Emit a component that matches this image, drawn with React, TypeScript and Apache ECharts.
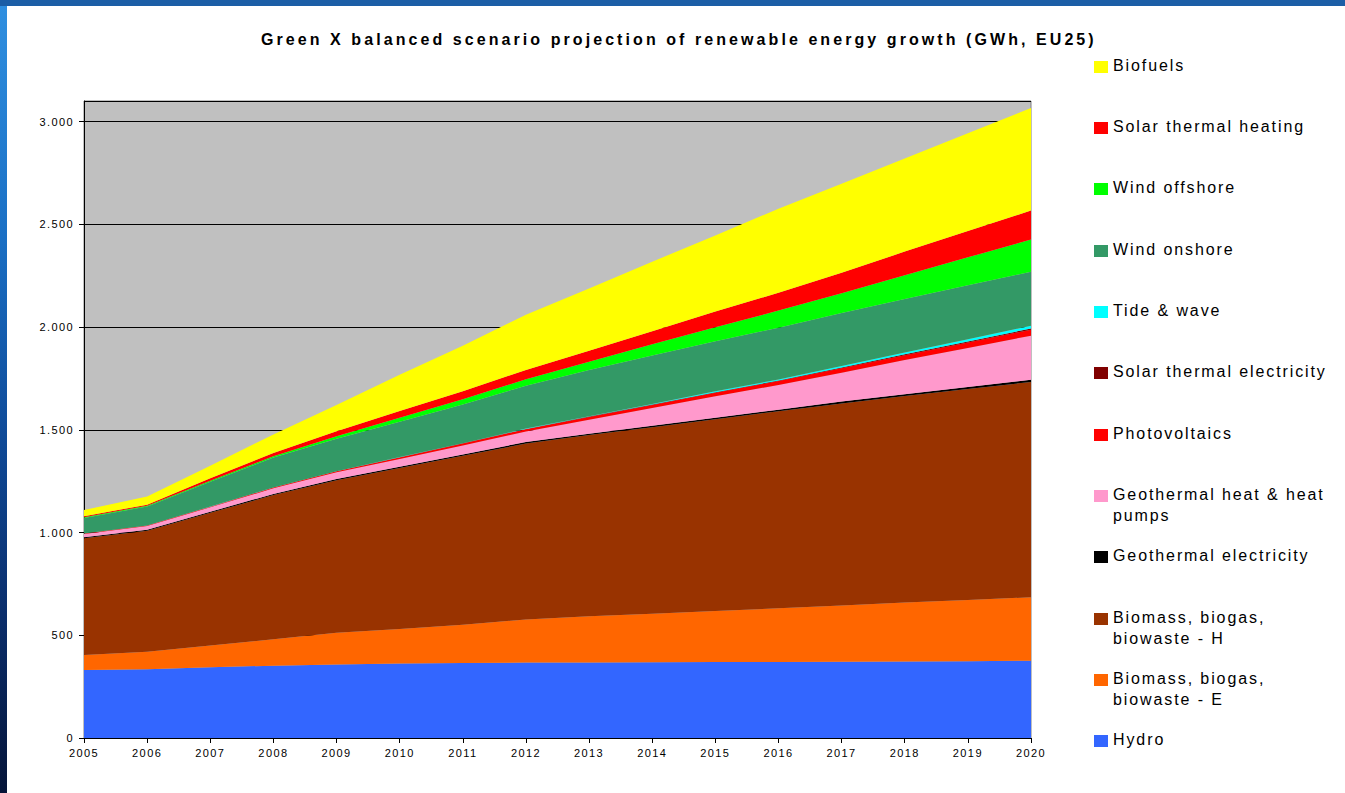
import React, { useEffect, useRef } from "react";
import * as echarts from "echarts";

const years = ["2005","2006","2007","2008","2009","2010","2011","2012","2013","2014","2015","2016","2017","2018","2019","2020"];

const hydro = [331, 334, 344, 352, 358, 362, 365, 367, 368, 369, 370, 370, 371, 372, 374, 376];
const biomassE = [73, 86, 106, 128, 154, 169, 186, 210, 225, 236, 248, 261, 274, 288, 298, 309];
const biomassH = [568, 588, 646, 702, 742, 783, 822, 856, 881, 907, 933, 959, 983, 1004, 1026, 1048];
const geoElectricity = [5, 5, 5, 6, 6, 6, 7, 7, 7, 8, 8, 8, 9, 9, 10, 10];
const geoHeat = [16, 19, 22, 27, 33, 38, 44, 52, 68, 86, 104, 120, 140, 166, 190, 215];
const photovoltaics = [2, 2, 3, 4, 5, 7, 9, 11, 13, 15, 17, 19, 22, 24, 27, 29];
const solarThermalElec = [0, 0, 0, 0, 0, 1, 1, 1, 2, 2, 3, 3, 4, 4, 5, 6];
const tideWave = [0.5, 0.5, 0.5, 0.5, 0.5, 1, 1, 2, 2, 3, 4, 5, 7, 9, 11, 13];
const windOnshore = [75, 92, 121, 145, 158, 172, 188, 208, 225, 236, 244, 252, 258, 261, 262, 263];
const windOffshore = [4, 4, 5, 7, 12, 19, 26, 32, 40, 54, 68, 83, 96, 115, 136, 157];
const solarThermalHeat = [5, 5, 11, 16, 24, 33, 38, 45, 53, 64, 76, 87, 100, 115, 128, 141];
const biofuels = [30, 40, 62, 90, 128, 177, 222, 269, 303, 338, 370, 409, 433, 453, 476, 499];

const titleText = "Green X balanced scenario projection of renewable energy growth (GWh, EU25)";

// bottom to top stacking order
const seriesDefs = [
  { name: "Hydro", label: "Hydro", data: hydro, color: "#3366FF" },
  { name: "Biomass, biogas, biowaste - E", label: "Biomass, biogas,\nbiowaste - E", data: biomassE, color: "#FF6600" },
  { name: "Biomass, biogas, biowaste - H", label: "Biomass, biogas,\nbiowaste - H", data: biomassH, color: "#993300" },
  { name: "Geothermal electricity", label: "Geothermal electricity", data: geoElectricity, color: "#000000" },
  { name: "Geothermal heat & heat pumps", label: "Geothermal heat & heat\npumps", data: geoHeat, color: "#FF99CC" },
  { name: "Photovoltaics", label: "Photovoltaics", data: photovoltaics, color: "#FF0000" },
  { name: "Solar thermal electricity", label: "Solar thermal electricity", data: solarThermalElec, color: "#800000" },
  { name: "Tide & wave", label: "Tide & wave", data: tideWave, color: "#00FFFF" },
  { name: "Wind onshore", label: "Wind onshore", data: windOnshore, color: "#339966" },
  { name: "Wind offshore", label: "Wind offshore", data: windOffshore, color: "#00FF00" },
  { name: "Solar thermal heating", label: "Solar thermal heating", data: solarThermalHeat, color: "#FF0000" },
  { name: "Biofuels", label: "Biofuels", data: biofuels, color: "#FFFF00" },
];

const FONT = "Liberation Sans";

function fmt(v: number) {
  return String(v).replace(/\B(?=(\d{3})+(?!\d))/g, ".");
}

export default function App() {
  const ref = useRef<HTMLDivElement>(null);

  useEffect(() => {
    if (!ref.current) return;
    const chart = echarts.init(ref.current, undefined, { renderer: "svg" });

    const legendItems: any[] = [];
    const legendOrder = [...seriesDefs].reverse();
    legendOrder.forEach((s, i) => {
      const cy = 66.5 + i * 61.36;
      legendItems.push({
        type: "rect",
        silent: true,
        shape: { x: 1094, y: Math.round(cy - 6), width: 14, height: 12 },
        style: { fill: s.color },
      });
      legendItems.push({
        type: "text",
        silent: true,
        x: 1113,
        y: cy - 12,
        style: {
          text: s.label,
          fill: "#000",
          fontSize: 16,
          fontFamily: FONT,
          verticalAlign: "top",
          align: "left",
          lineHeight: 21,
        },
      });
    });

    const option: any = {
      animation: false,
      title: {
        text: titleText,
        left: 261,
        top: 31,
        padding: 0,
        textStyle: { fontFamily: FONT, fontWeight: "bold", fontSize: 16, color: "#000" },
      },
      graphic: [
        {
          type: "rect",
          silent: true,
          z: -100,
          shape: { x: 7, y: 6, width: 1345, height: 800 },
          style: { fill: "#FFFFFF" },
        },
        ...legendItems,
      ],
      grid: {
        left: 84,
        top: 101,
        width: 947,
        height: 637,
        show: true,
        backgroundColor: "#C0C0C0",
        borderColor: "#808080",
        borderWidth: 1,
      },
      xAxis: {
        type: "category",
        data: years,
        boundaryGap: false,
        axisLine: { lineStyle: { color: "#000", width: 1 } },
        axisTick: { show: true, length: 5, lineStyle: { color: "#000" } },
        axisLabel: { fontFamily: FONT, fontSize: 11, color: "#000", margin: 9, interval: 0 },
        splitLine: { show: false },
      },
      yAxis: {
        type: "value",
        min: 0,
        max: 3100,
        interval: 500,
        axisLine: { show: true, lineStyle: { color: "#000", width: 1 } },
        axisTick: { show: true, length: 5, lineStyle: { color: "#000" } },
        axisLabel: {
          fontFamily: FONT,
          fontSize: 11,
          color: "#000",
          margin: 10,
          showMaxLabel: false,
          formatter: (v: number) => (v % 500 === 0 ? fmt(v) : ""),
        },
        splitLine: { show: true, lineStyle: { color: "#000", width: 1 } },
      },
      series: seriesDefs.map((s) => ({
        name: s.name,
        type: "line",
        stack: "total",
        data: s.data,
        symbol: "none",
        showSymbol: false,
        lineStyle: { width: 0 },
        itemStyle: { color: s.color },
        areaStyle: { color: s.color, opacity: 1 },
        emphasis: { disabled: true },
      })),
    };

    chart.setOption(option);

    const applySpacing = () => {
      if (!ref.current) return;
      const texts = ref.current.querySelectorAll("text");
      texts.forEach((t) => {
        const cs = getComputedStyle(t);
        const fs = parseFloat(cs.fontSize);
        const bold = cs.fontWeight === "bold" || parseInt(cs.fontWeight, 10) >= 600;
        let ls = 1.4;
        if (bold) ls = 3.07;
        else if (fs >= 14) ls = 1.9;
        t.setAttribute("letter-spacing", String(ls));
      });
    };
    applySpacing();
    const raf = requestAnimationFrame(applySpacing);
    chart.on("finished", applySpacing);

    return () => {
      cancelAnimationFrame(raf);
      chart.dispose();
    };
  }, []);

  return (
    <div
      style={{
        position: "fixed",
        left: 0,
        top: 0,
        width: 1345,
        height: 793,
        background:
          "linear-gradient(180deg, #1c5ea6 0px, #1c5ea6 6px, #2f8fe0 6px, #1a6fc4 30%, #0f4a98 55%, #0a2d6a 78%, #051438 100%)",
      }}
    >
      <div ref={ref} style={{ position: "absolute", left: 0, top: 0, width: 1345, height: 793 }} />
    </div>
  );
}
